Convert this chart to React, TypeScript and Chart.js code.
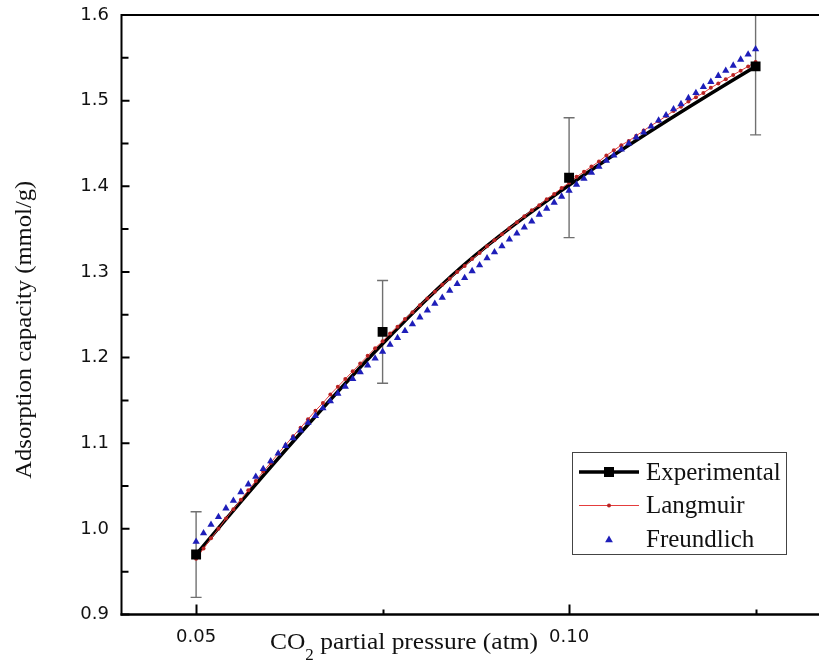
import React, { useEffect, useRef } from "react";
import { Chart, registerables } from "chart.js";

Chart.register(...registerables);

// ---------- data ----------
const seriesNames = ["Experimental", "Langmuir", "Freundlich"];

const expX = [0.05, 0.075, 0.1, 0.125];
const expY = [0.97, 1.23, 1.41, 1.54];
const expErr = [0.05, 0.06, 0.07, 0.08];

const fitX = [
  0.05, 0.051, 0.052, 0.053, 0.054, 0.055, 0.056, 0.057, 0.058, 0.059,
  0.06, 0.061, 0.062, 0.063, 0.064, 0.065, 0.066, 0.067, 0.068, 0.069,
  0.07, 0.071, 0.072, 0.073, 0.074, 0.075, 0.076, 0.077, 0.078, 0.079,
  0.08, 0.081, 0.082, 0.083, 0.084, 0.085, 0.086, 0.087, 0.088, 0.089,
  0.09, 0.091, 0.092, 0.093, 0.094, 0.095, 0.096, 0.097, 0.098, 0.099,
  0.1, 0.101, 0.102, 0.103, 0.104, 0.105, 0.106, 0.107, 0.108, 0.109,
  0.11, 0.111, 0.112, 0.113, 0.114, 0.115, 0.116, 0.117, 0.118, 0.119,
  0.12, 0.121, 0.122, 0.123, 0.124, 0.125,
];

const langmuirY = [
  0.965, 0.977, 0.989, 1.0, 1.012, 1.023, 1.034, 1.045, 1.056, 1.067,
  1.077, 1.088, 1.098, 1.108, 1.118, 1.128, 1.138, 1.147, 1.157, 1.166,
  1.175, 1.184, 1.193, 1.202, 1.211, 1.219, 1.228, 1.236, 1.245, 1.253,
  1.261, 1.269, 1.277, 1.285, 1.292, 1.3, 1.307, 1.315, 1.322, 1.33,
  1.337, 1.344, 1.351, 1.358, 1.365, 1.372, 1.378, 1.385, 1.391, 1.398,
  1.404, 1.411, 1.417, 1.423, 1.429, 1.436, 1.442, 1.448, 1.453, 1.459,
  1.465, 1.471, 1.476, 1.482, 1.488, 1.493, 1.499, 1.504, 1.509, 1.515,
  1.52, 1.525, 1.53, 1.535, 1.54, 1.545,
];

const freundlichY = [
  0.985, 0.995, 1.005, 1.014, 1.024, 1.033, 1.043, 1.052, 1.061, 1.07,
  1.079, 1.088, 1.097, 1.106, 1.115, 1.124, 1.132, 1.141, 1.149, 1.158,
  1.166, 1.175, 1.183, 1.191, 1.199, 1.207, 1.215, 1.223, 1.231, 1.239,
  1.247, 1.255, 1.263, 1.27, 1.278, 1.286, 1.293, 1.301, 1.308, 1.316,
  1.323, 1.33, 1.338, 1.345, 1.352, 1.359, 1.367, 1.374, 1.381, 1.388,
  1.395, 1.402, 1.409, 1.416, 1.423, 1.43, 1.436, 1.443, 1.45, 1.457,
  1.463, 1.47, 1.477, 1.483, 1.49, 1.496, 1.503, 1.509, 1.516, 1.522,
  1.529, 1.535, 1.541, 1.548, 1.554, 1.56,
];

const xTickValues = [0.05, 0.1];
const xTickLabels = ["0.05", "0.10"];
const xMinorTicks = [0.075, 0.125];
const yTickValues = [0.9, 1.0, 1.1, 1.2, 1.3, 1.4, 1.5, 1.6];
const yTickLabels = ["0.9", "1.0", "1.1", "1.2", "1.3", "1.4", "1.5", "1.6"];
const yMinorTicks = [0.95, 1.05, 1.15, 1.25, 1.35, 1.45, 1.55];

const xTitleParts = ["CO", "2", " partial pressure (atm)"];
const yTitle = "Adsorption capacity (mmol/g)";

// ---------- styles ----------
const SERIF = "'Liberation Serif', 'Times New Roman', serif";
const SANS = "'DejaVu Sans', Arial, sans-serif";
const RED_LINE = "rgb(228,60,60)";
const RED_DOT = "rgb(185,35,35)";
const BLUE = "rgb(30,30,185)";

const drawTriangle = (ctx: CanvasRenderingContext2D, x: number, y: number, r: number) => {
  ctx.beginPath();
  ctx.moveTo(x, y - r);
  ctx.lineTo(x + r * 0.866, y + r * 0.5);
  ctx.lineTo(x - r * 0.866, y + r * 0.5);
  ctx.closePath();
  ctx.fill();
};

const decorPlugin = {
  id: "decor",
  beforeDatasetsDraw(chart: any) {
    const { ctx, chartArea, scales } = chart;
    const xs = scales.x;
    const ys = scales.y;
    ctx.save();
    ctx.beginPath();
    ctx.rect(chartArea.left, chartArea.top, chartArea.right - chartArea.left, chartArea.bottom - chartArea.top);
    ctx.clip();
    // error bars
    ctx.strokeStyle = "#707070";
    ctx.lineWidth = 1.4;
    for (let i = 0; i < expX.length; i++) {
      const px = xs.getPixelForValue(expX[i]);
      const top = ys.getPixelForValue(expY[i] + expErr[i]);
      const bot = ys.getPixelForValue(expY[i] - expErr[i]);
      ctx.beginPath();
      ctx.moveTo(px, top);
      ctx.lineTo(px, bot);
      ctx.moveTo(px - 5.5, top);
      ctx.lineTo(px + 5.5, top);
      ctx.moveTo(px - 5.5, bot);
      ctx.lineTo(px + 5.5, bot);
      ctx.stroke();
    }
    // quadratic clamped B-spline through the experimental points
    const p = expX.map((v, i) => [xs.getPixelForValue(v), ys.getPixelForValue(expY[i])]);
    const mid = [(p[1][0] + p[2][0]) / 2, (p[1][1] + p[2][1]) / 2];
    ctx.strokeStyle = "#000";
    ctx.lineWidth = 3.5;
    ctx.lineJoin = "round";
    ctx.lineCap = "round";
    ctx.beginPath();
    ctx.moveTo(p[0][0], p[0][1]);
    ctx.quadraticCurveTo(p[1][0], p[1][1], mid[0], mid[1]);
    ctx.quadraticCurveTo(p[2][0], p[2][1], p[3][0], p[3][1]);
    ctx.stroke();
    ctx.restore();
  },
  afterDatasetsDraw(chart: any) {
    const { ctx, chartArea, scales } = chart;
    const xs = scales.x;
    const ys = scales.y;
    const { left, right, top, bottom } = chartArea;
    ctx.save();
    ctx.strokeStyle = "#000";
    // axes
    ctx.lineWidth = 2;
    ctx.beginPath();
    ctx.moveTo(left, top);
    ctx.lineTo(right, top);
    ctx.stroke();
    ctx.beginPath();
    ctx.moveTo(left, top - 1);
    ctx.lineTo(left, bottom + 1);
    ctx.stroke();
    ctx.lineWidth = 2.5;
    ctx.beginPath();
    ctx.moveTo(left - 1, bottom);
    ctx.lineTo(right, bottom);
    ctx.stroke();
    // inward ticks
    ctx.lineWidth = 2;
    ctx.beginPath();
    xTickValues.forEach((v) => {
      const px = Math.round(xs.getPixelForValue(v)) + 0.5;
      ctx.moveTo(px, bottom);
      ctx.lineTo(px, bottom - 10);
    });
    xMinorTicks.forEach((v) => {
      const px = Math.round(xs.getPixelForValue(v)) + 0.5;
      ctx.moveTo(px, bottom);
      ctx.lineTo(px, bottom - 5);
    });
    yTickValues.forEach((v) => {
      const py = ys.getPixelForValue(v);
      ctx.moveTo(left, py);
      ctx.lineTo(left + 8, py);
    });
    yMinorTicks.forEach((v) => {
      const py = ys.getPixelForValue(v);
      ctx.moveTo(left, py);
      ctx.lineTo(left + 7, py);
    });
    ctx.stroke();
    ctx.restore();
  },
  afterDraw(chart: any) {
    const { ctx, chartArea } = chart;
    ctx.save();
    ctx.fillStyle = "#111";
    // x title with subscript, stretched slightly to the reference width
    ctx.textBaseline = "alphabetic";
    ctx.textAlign = "left";
    ctx.font = `24px ${SERIF}`;
    const w0 = ctx.measureText(xTitleParts[0]).width;
    ctx.font = `16px ${SERIF}`;
    const w1 = ctx.measureText(xTitleParts[1]).width;
    ctx.font = `24px ${SERIF}`;
    const w2 = ctx.measureText(xTitleParts[2]).width;
    const total = w0 + w1 + w2;
    const targetW = 268;
    const sx = targetW / total;
    ctx.save();
    ctx.translate(270, 649);
    ctx.scale(sx, 1);
    let x = 0;
    ctx.fillText(xTitleParts[0], x, 0);
    x += w0;
    ctx.font = `16px ${SERIF}`;
    ctx.fillText(xTitleParts[1], x, 11);
    x += w1;
    ctx.font = `24px ${SERIF}`;
    ctx.fillText(xTitleParts[2], x, 0);
    ctx.restore();
    // y title
    ctx.save();
    ctx.translate(31, (chartArea.top + chartArea.bottom) / 2 + 15);
    ctx.rotate(-Math.PI / 2);
    ctx.textAlign = "center";
    ctx.font = `24px ${SERIF}`;
    const yw = ctx.measureText(yTitle).width;
    ctx.scale(298 / yw, 1);
    ctx.fillText(yTitle, 0, 0);
    ctx.restore();

    // legend
    const bx = 572.5, by = 452.5, bw = 214, bh = 102;
    ctx.fillStyle = "#fff";
    ctx.fillRect(bx, by, bw, bh);
    ctx.strokeStyle = "#444";
    ctx.lineWidth = 1;
    ctx.strokeRect(bx, by, bw, bh);
    const rowsY = [472, 505, 539];
    const lx0 = 579, lx1 = 639, mx = 609;
    // Experimental
    ctx.strokeStyle = "#000";
    ctx.lineWidth = 3.5;
    ctx.beginPath();
    ctx.moveTo(lx0, rowsY[0]);
    ctx.lineTo(lx1, rowsY[0]);
    ctx.stroke();
    ctx.fillStyle = "#000";
    ctx.fillRect(mx - 5, rowsY[0] - 5, 10, 10);
    // Langmuir
    ctx.strokeStyle = RED_LINE;
    ctx.lineWidth = 1;
    ctx.beginPath();
    ctx.moveTo(lx0, rowsY[1] + 0.5);
    ctx.lineTo(lx1, rowsY[1] + 0.5);
    ctx.stroke();
    ctx.fillStyle = RED_DOT;
    ctx.beginPath();
    ctx.arc(mx, rowsY[1] + 0.5, 2, 0, Math.PI * 2);
    ctx.fill();
    // Freundlich
    ctx.fillStyle = BLUE;
    drawTriangle(ctx, mx, rowsY[2] + 1, 4.5);
    // texts
    ctx.fillStyle = "#111";
    ctx.font = `25px ${SERIF}`;
    ctx.textAlign = "left";
    ctx.textBaseline = "middle";
    seriesNames.forEach((n, i) => ctx.fillText(n, 646, rowsY[i] + 1));
    ctx.restore();
  },
};

export default function App() {
  const ref = useRef<HTMLCanvasElement | null>(null);
  useEffect(() => {
    document.body.style.margin = "0";
    const canvas = ref.current;
    if (!canvas) return;
    const chart = new Chart(canvas, {
      type: "scatter",
      data: {
        datasets: [
          {
            label: seriesNames[0],
            data: expX.map((x, i) => ({ x, y: expY[i] })),
            showLine: false,
            pointStyle: "rect",
            pointRadius: 7,
            pointBackgroundColor: "#000",
            pointBorderColor: "#000",
            pointBorderWidth: 0,
            order: 0,
          },
          {
            label: seriesNames[1],
            data: fitX.map((x, i) => ({ x, y: langmuirY[i] })),
            showLine: true,
            borderColor: RED_LINE,
            borderWidth: 1,
            pointStyle: "circle",
            pointRadius: 2,
            pointBackgroundColor: RED_DOT,
            pointBorderColor: RED_DOT,
            pointBorderWidth: 0,
            order: 2,
          },
          {
            label: seriesNames[2],
            data: fitX.map((x, i) => ({ x, y: freundlichY[i] })),
            showLine: false,
            pointStyle: "triangle",
            pointRadius: 4.2,
            pointBackgroundColor: BLUE,
            pointBorderColor: BLUE,
            pointBorderWidth: 0,
            order: 1,
          },
        ],
      },
      options: {
        animation: false,
        responsive: false,
        devicePixelRatio: 1,
        layout: { autoPadding: false, padding: { left: 0, right: 0, top: 15, bottom: 0 } },
        plugins: {
          legend: { display: false },
          tooltip: { enabled: false },
          title: { display: false },
        },
        scales: {
          x: {
            type: "linear",
            position: "bottom",
            min: 0.04,
            max: 0.1335,
            grid: { display: false, drawTicks: false },
            border: { display: false },
            ticks: {
              autoSkip: false,
              maxRotation: 0,
              minRotation: 0,
              padding: 12,
              color: "#111",
              font: { family: SANS, size: 18 },
              callback: (v: any) => {
                const idx = xTickValues.findIndex((t) => Math.abs(t - Number(v)) < 1e-9);
                return idx >= 0 ? xTickLabels[idx] : "";
              },
            },
            afterBuildTicks: (axis: any) => {
              axis.ticks = xTickValues.map((v) => ({ value: v }));
            },
            afterFit: (axis: any) => {
              axis.height = 57.5;
              axis.paddingLeft = 0;
              axis.paddingRight = 0;
            },
          },
          y: {
            type: "linear",
            position: "left",
            min: 0.9,
            max: 1.6,
            grid: { display: false, drawTicks: false },
            border: { display: false },
            ticks: {
              padding: 12.5,
              color: "#111",
              font: { family: SANS, size: 18 },
              callback: (v: any) => {
                const idx = yTickValues.findIndex((t) => Math.abs(t - Number(v)) < 1e-9);
                return idx >= 0 ? yTickLabels[idx] : "";
              },
            },
            afterBuildTicks: (axis: any) => {
              axis.ticks = yTickValues.map((v) => ({ value: v }));
            },
            afterFit: (axis: any) => {
              axis.width = 121.5;
              axis.paddingTop = 0;
              axis.paddingBottom = 0;
            },
          },
        },
      },
      plugins: [decorPlugin],
    });
    return () => chart.destroy();
  }, []);
  return (
    <div style={{ width: 819, height: 672, background: "#fff" }}>
      <canvas ref={ref} width={819} height={672} style={{ display: "block", width: 819, height: 672 }} />
    </div>
  );
}
